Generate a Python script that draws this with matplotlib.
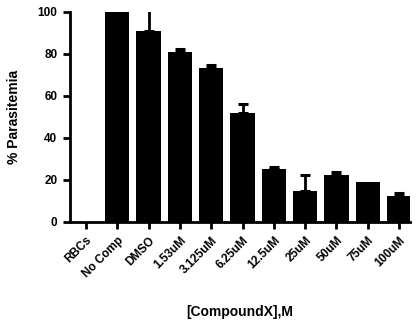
import matplotlib
matplotlib.use("Agg")
import matplotlib.pyplot as plt
import numpy as np

categories = ["RBCs", "No Comp", "DMSO", "1.53uM", "3.125uM", "6.25uM",
              "12.5uM", "25uM", "50uM", "75uM", "100uM"]
values = [0, 100, 91, 80.8, 73.5, 52, 25.3, 15, 22.6, 19, 12.3]
errors = [0, 0, 12, 1.7, 1.4, 4, 0.7, 7.6, 1.4, 0, 1.3]
yticks = [0, 20, 40, 60, 80, 100]

plt.rcParams['font.family'] = ['Liberation Sans', 'DejaVu Sans']
fig = plt.figure(figsize=(4.16, 3.25), dpi=100)
ax = fig.add_axes([70/416, (325-222)/325, (410-70)/416, (222-12)/325])

x = np.arange(len(categories))
ax.bar(x, values, width=0.78, color='black', zorder=2)
err_x = [xi for xi, e in zip(x, errors) if e > 0]
err_y = [v for v, e in zip(values, errors) if e > 0]
err_e = [e for e in errors if e > 0]
ax.errorbar(err_x, err_y, yerr=[np.zeros(len(err_e)), err_e], fmt='none',
            ecolor='black', elinewidth=2, capsize=3.6, capthick=2.2, zorder=1)

ax.set_xlim(-0.51, 10.35)
ax.set_ylim(0, 100)
ax.set_yticks(yticks)
ax.set_xticks(x)
ax.set_xticklabels(categories, rotation=45, ha='right', va='top',
                   rotation_mode='anchor', fontsize=8.5, fontweight='bold')
for lab in ax.get_yticklabels():
    lab.set_fontsize(8.5)
    lab.set_fontweight('bold')

for s in ['top', 'right']:
    ax.spines[s].set_visible(False)
for s in ['left', 'bottom']:
    ax.spines[s].set_linewidth(2)
ax.tick_params(axis='both', direction='out', length=5, width=2, pad=4)

ax.set_ylabel('% Parasitemia', fontsize=10, fontweight='bold', labelpad=12)
fig.text(240/416, 1 - 312/325, '[CompoundX],M', ha='center', va='center',
         fontsize=10, fontweight='bold')

fig.savefig('out.png', dpi=100)
